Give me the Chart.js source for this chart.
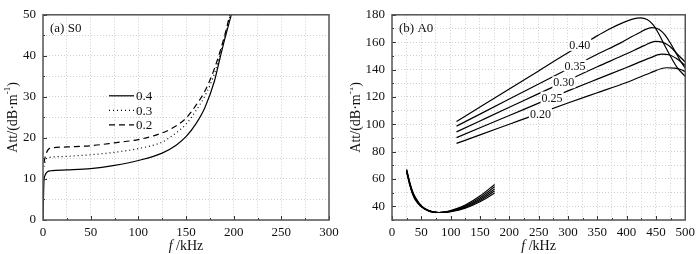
<!DOCTYPE html>
<html lang="en">
<head>
  <meta charset="UTF-8">
  <title>Att vs f - S0 / A0</title>
  <script src="https://cdn.jsdelivr.net/npm/chart.js"></script>
  <style>
    html, body { margin: 0; padding: 0; background: #fff; }
    #wrap { position: relative; width: 700px; height: 254px; }
    canvas { position: absolute; top: 0; }
    #ca { left: 0; }
    #cb { left: 350px; }
  </style>
</head>
<body>
  <div id="wrap">
    <canvas id="ca" width="350" height="254"></canvas>
    <canvas id="cb" width="350" height="254"></canvas>
  </div>

  <script>
    // (a) S0 - three thicknesses
    const s0Labels = ['0.4', '0.3', '0.2'];
    const s0Freq04 = [0, 0.5, 1, 2, 3, 5, 8, 25, 50, 75, 100, 125, 140, 150, 160, 170, 180, 185, 190, 197.5];
    const s0Att04  = [0, 5, 9.5, 10.8, 11.3, 11.8, 12, 12.2, 12.5, 13.3, 14.5, 16.3, 18.3, 20.3, 23.3, 27.5, 34, 38.8, 43.5, 50];
    const s0Freq03 = [1, 3, 8, 25, 50, 75, 100, 125, 140, 150, 160, 170, 180, 190, 196.5];
    const s0Att03  = [13, 14.8, 15.3, 15.5, 15.9, 16.5, 17.4, 19, 21.3, 23.3, 26.5, 30.3, 35.8, 44, 50];
    const s0Freq02 = [1, 3, 6, 10, 25, 50, 75, 100, 120, 135, 150, 160, 170, 180, 190, 196];
    const s0Att02  = [14, 16, 17.3, 17.6, 17.8, 18.1, 18.8, 19.6, 20.8, 22.3, 24.8, 27.8, 31.5, 37, 44.5, 50];

    // (b) A0 - five thicknesses, low branch and high branch
    const a0Labels = ['0.40', '0.35', '0.30', '0.25', '0.20'];
    const a0LowFreq = [25, 30, 35, 40, 50, 60, 70, 80, 90, 100, 125, 150, 175];
    const a0LowAtt = [
      [67, 58, 51, 46.5, 40.5, 37.5, 36, 35.5, 35.8, 36.8, 41, 47.5, 56],
      [66.5, 57.5, 50.5, 46, 40.2, 37.3, 35.9, 35.5, 35.8, 36.6, 40.4, 46.3, 54.3],
      [66, 57, 50, 45.5, 40, 37.2, 35.8, 35.5, 35.7, 36.4, 39.8, 45.2, 52.7],
      [65.5, 56.5, 49.5, 45, 39.8, 37.1, 35.8, 35.5, 35.6, 36.2, 39.2, 44.2, 51.2],
      [65, 56, 49, 44.5, 39.6, 37, 35.7, 35.5, 35.6, 36.1, 38.7, 43.3, 49.8]
    ];
    const a0HighFreq = [
      [110, 150, 200, 250, 300, 340, 370, 395, 410, 424, 435, 445, 455, 465, 475, 487, 500],
      [110, 150, 200, 250, 300, 350, 390, 420, 443, 455, 465, 475, 485, 492, 500],
      [110, 150, 200, 250, 300, 350, 400, 430, 449, 462, 475, 487, 500],
      [110, 150, 200, 250, 300, 350, 400, 440, 460, 472, 485, 500],
      [110, 150, 200, 250, 300, 350, 400, 440, 468, 482, 492, 500]
    ];
    const a0HighAtt = [
      [102, 112.6, 125.8, 139, 152.2, 162.2, 169.5, 174.5, 176.8, 177.7, 176.5, 172.8, 166, 157.5, 149.5, 141, 135],
      [98.6, 107.4, 118.4, 129.4, 140.4, 151.2, 159.5, 166.5, 170.6, 169.5, 165.5, 159, 151.5, 146, 141],
      [94.4, 102.4, 112.4, 122.4, 132.2, 142, 151.5, 157.5, 160.6, 159.8, 156.5, 151, 145.5],
      [90.2, 97.4, 106.4, 115.4, 124.4, 133, 141.5, 148.5, 151.2, 150.8, 148, 143],
      [86, 92.2, 100, 107.8, 115.5, 123, 130.5, 137.5, 141.3, 141, 140, 138.5]
    ];
    // inline label positions (f, Att) for the A0 curves
    const a0LabelFreq = [320, 312, 293, 273, 253];
    const a0LabelAtt  = [158, 143, 130.7, 119.5, 107.5];

    const FONT = '"Liberation Serif", "Times New Roman", serif';
    const pts = (xs, ys) => xs.map((x, i) => ({ x, y: ys[i] }));

    // box, inward ticks, axis titles, panel tag
    const frame = {
      id: 'frame',
      afterDatasetsDraw(chart, args, opts) {
        const { ctx, chartArea: a, scales } = chart;
        ctx.save();
        // inward ticks
        ctx.strokeStyle = '#333';
        ctx.lineWidth = 1;
        scales.x.ticks.forEach((t, i) => {
          const px = Math.round(scales.x.getPixelForTick(i)) + 0.5;
          const len = t.label !== '' ? 4 : 2;
          ctx.beginPath(); ctx.moveTo(px, a.bottom); ctx.lineTo(px, a.bottom - len); ctx.stroke();
        });
        scales.y.ticks.forEach((t, i) => {
          const py = Math.round(scales.y.getPixelForTick(i)) + 0.5;
          const len = t.label !== '' ? 4 : 2;
          ctx.beginPath(); ctx.moveTo(a.left, py); ctx.lineTo(a.left + len, py); ctx.stroke();
        });
        // box
        ctx.strokeStyle = '#555';
        ctx.lineWidth = 1.5;
        ctx.strokeRect(a.left, a.top, a.right - a.left, a.bottom - a.top);

        ctx.fillStyle = '#111';
        ctx.font = '13px ' + FONT;
        ctx.textBaseline = 'middle';
        ctx.textAlign = 'left';
        ctx.fillText(opts.tag, a.left + 7, a.top + 14);

        // x title: italic f then " /kHz"
        const cx = (a.left + a.right) / 2;
        ctx.font = 'italic 14px ' + FONT;
        const w1 = ctx.measureText('f').width;
        ctx.font = '14px ' + FONT;
        const w2 = ctx.measureText(' /kHz').width;
        let sx = cx - (w1 + w2) / 2;
        ctx.font = 'italic 14px ' + FONT;
        ctx.fillText('f', sx, 246);
        ctx.font = '14px ' + FONT;
        ctx.fillText(' /kHz', sx + w1, 246);

        // y title: Att/(dB·m^-1)
        ctx.translate(opts.yTitleX, (a.top + a.bottom) / 2);
        ctx.rotate(-Math.PI / 2);
        ctx.font = '14px ' + FONT;
        const p1 = 'Att/(dB·m', sup = '-1', p2 = ')';
        const wp1 = ctx.measureText(p1).width;
        const wp2 = ctx.measureText(p2).width;
        ctx.font = '9px ' + FONT;
        const ws = ctx.measureText(sup).width;
        let tx = -(wp1 + ws + wp2) / 2;
        ctx.font = '14px ' + FONT;
        ctx.fillText(p1, tx, 0);
        ctx.font = '9px ' + FONT;
        ctx.fillText(sup, tx + wp1, -5);
        ctx.font = '14px ' + FONT;
        ctx.fillText(p2, tx + wp1 + ws, 0);
        ctx.restore();
      }
    };

    // legend for panel (a), drawn inside the plot
    const s0Legend = {
      id: 's0Legend',
      afterDatasetsDraw(chart) {
        const { ctx, chartArea: a } = chart;
        const styles = [[], [1, 3], [6, 4]];
        ctx.save();
        ctx.font = '13px ' + FONT;
        ctx.fillStyle = '#111';
        ctx.textBaseline = 'middle';
        s0Labels.forEach((lab, i) => {
          const y = a.top + 81 + i * 14.5;
          ctx.strokeStyle = '#000';
          ctx.lineWidth = 1.2;
          ctx.setLineDash(styles[i]);
          ctx.beginPath(); ctx.moveTo(a.left + 66, y); ctx.lineTo(a.left + 91, y); ctx.stroke();
          ctx.setLineDash([]);
          ctx.fillText(lab, a.left + 93, y + 1);
        });
        ctx.restore();
      }
    };

    // inline curve labels for panel (b)
    const a0Tags = {
      id: 'a0Tags',
      afterDatasetsDraw(chart) {
        const { ctx, scales } = chart;
        ctx.save();
        ctx.font = '12px ' + FONT;
        ctx.textAlign = 'center';
        ctx.textBaseline = 'middle';
        a0Labels.forEach((lab, i) => {
          const px = scales.x.getPixelForValue(a0LabelFreq[i]);
          const py = scales.y.getPixelForValue(a0LabelAtt[i]);
          const w = ctx.measureText(lab).width;
          ctx.fillStyle = '#fff';
          ctx.fillRect(px - w / 2 - 1, py - 6, w + 2, 12);
          ctx.fillStyle = '#111';
          ctx.fillText(lab, px, py + 1);
        });
        ctx.restore();
      }
    };

    function axes(xMax, xStep, xLab, yMin, yMax, yStep, yLab, yWidth) {
      const grid = { color: '#cfcfcf', lineWidth: 1, drawTicks: false };
      const border = { display: false, dash: [1, 2] };
      const tickFont = { family: FONT, size: 13 };
      return {
        x: {
          type: 'linear', min: 0, max: xMax,
          grid, border,
          afterFit: s => { s.height = 34; },
          ticks: {
            stepSize: xStep, autoSkip: false, maxRotation: 0, padding: 5,
            color: '#111', font: tickFont,
            callback: v => (v % xLab === 0 ? v : '')
          }
        },
        y: {
          type: 'linear', min: yMin, max: yMax,
          grid, border,
          afterFit: s => { s.width = yWidth; },
          ticks: {
            stepSize: yStep, autoSkip: false, padding: 7,
            color: '#111', font: tickFont,
            callback: v => (v % yLab === 0 ? v : '')
          }
        }
      };
    }

    const lineBase = {
      borderColor: '#000', borderWidth: 1.2, pointRadius: 0,
      showLine: true, fill: false, cubicInterpolationMode: 'monotone'
    };

    new Chart(document.getElementById('ca'), {
      type: 'scatter',
      data: {
        datasets: [
          { ...lineBase, label: s0Labels[0], data: pts(s0Freq04, s0Att04) },
          { ...lineBase, label: s0Labels[1], data: pts(s0Freq03, s0Att03), borderDash: [1, 3] },
          { ...lineBase, label: s0Labels[2], data: pts(s0Freq02, s0Att02), borderDash: [6, 4] }
        ]
      },
      options: {
        responsive: false, animation: false,
        layout: { padding: { top: 7, right: 21, left: 0, bottom: 0 } },
        plugins: { legend: { display: false }, tooltip: { enabled: false }, frame: { tag: '(a) S0', yTitleX: 13 } },
        scales: axes(300, 25, 50, 0, 50, 5, 10, 43)
      },
      plugins: [frame, s0Legend]
    });

    const a0Sets = [];
    a0Labels.forEach((lab, i) => {
      a0Sets.push({ ...lineBase, label: lab + ' low', data: pts(a0LowFreq, a0LowAtt[i]) });
      a0Sets.push({ ...lineBase, label: lab, data: pts(a0HighFreq[i], a0HighAtt[i]) });
    });

    new Chart(document.getElementById('cb'), {
      type: 'scatter',
      data: { datasets: a0Sets },
      options: {
        responsive: false, animation: false,
        layout: { padding: { top: 7, right: 9, left: 0, bottom: 0 } },
        plugins: { legend: { display: false }, tooltip: { enabled: false }, frame: { tag: '(b) A0', yTitleX: 6 } },
        scales: axes(500, 25, 50, 30, 180, 10, 20, 42)
      },
      plugins: [frame, a0Tags]
    });
  </script>
</body>
</html>
